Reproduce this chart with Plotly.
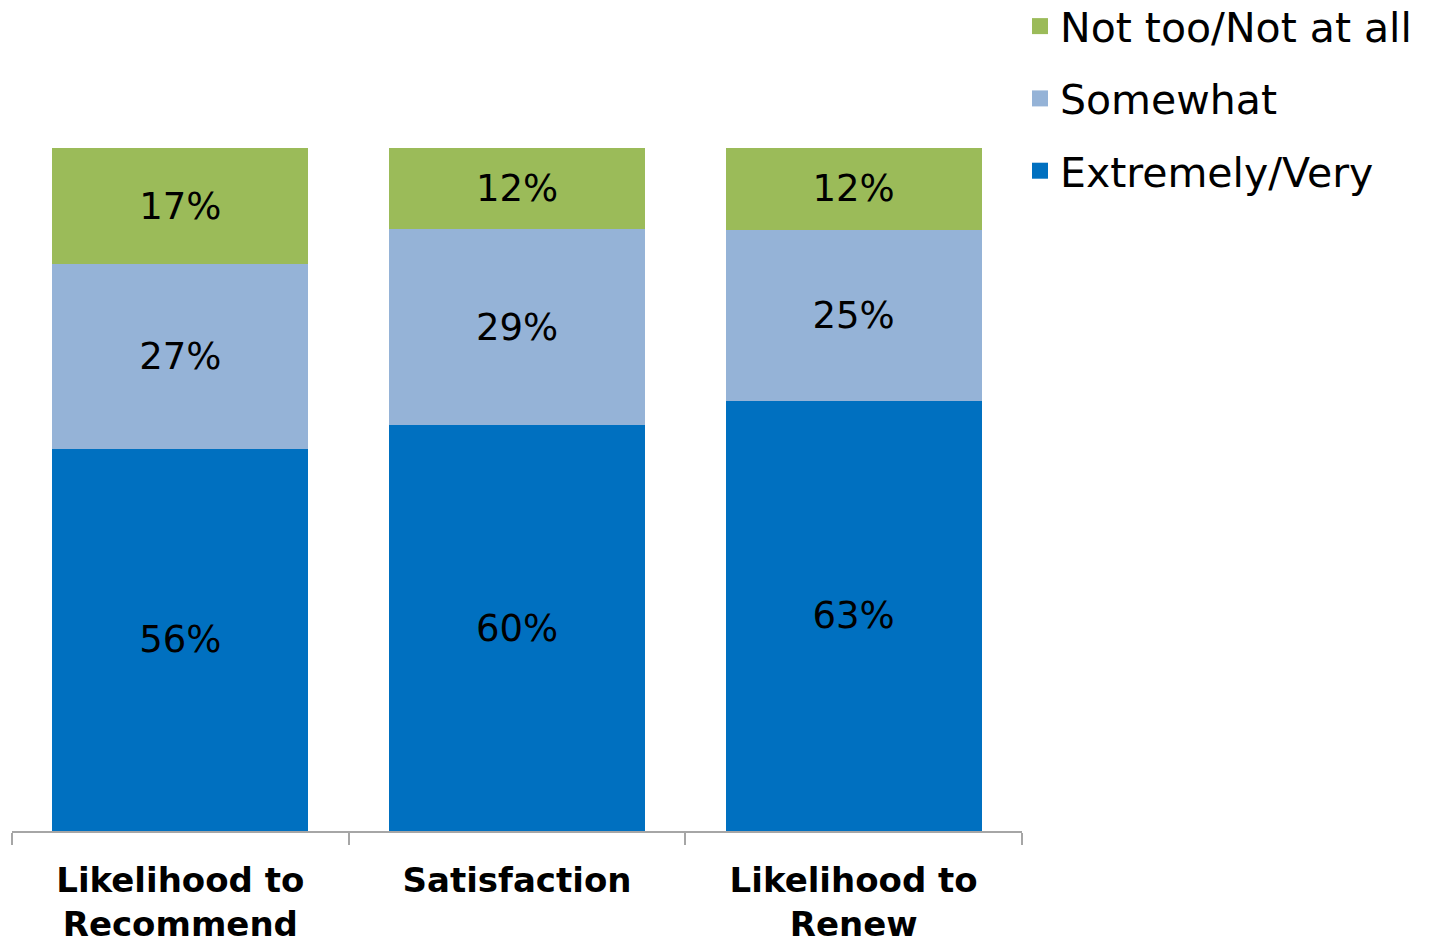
import plotly.graph_objects as go

categories = ["Likelihood to<br>Recommend", "Satisfaction", "Likelihood to<br>Renew"]
extremely_very = [56, 60, 63]
somewhat = [27, 29, 25]
not_too = [17, 12, 12]

# (name, values, colour, position in legend)
series = [
    ("Extremely/Very", extremely_very, "#0070C0", 3),
    ("Somewhat", somewhat, "#95B3D7", 2),
    ("Not too/Not at all", not_too, "#9BBB59", 1),
]

FONT = "DejaVu Sans"

fig = go.Figure()
for name, vals, color, rank in series:
    fig.add_trace(go.Bar(
        x=categories,
        y=vals,
        name=name,
        legendgroup=name,
        showlegend=False,
        marker=dict(color=color, line=dict(width=0)),
        text=[f"{v}%" for v in vals],
        textposition="inside",
        insidetextanchor="middle",
        textangle=0,
        textfont=dict(family=FONT, size=37, color="black"),
        constraintext="none",
    ))
    # legend key: a larger square swatch for each series
    fig.add_trace(go.Scatter(
        x=[None],
        y=[None],
        mode="markers",
        name=name,
        legendgroup=name,
        legendrank=rank,
        marker=dict(symbol="square", size=16, color=color),
        hoverinfo="skip",
    ))

fig.update_layout(
    barmode="stack",
    barnorm="percent",
    bargap=0.24,
    width=1439,
    height=943,
    margin=dict(l=12, r=417, t=148, b=112, autoexpand=False),
    plot_bgcolor="white",
    paper_bgcolor="white",
    font=dict(family=FONT, color="black"),
    uniformtext=dict(minsize=37, mode="show"),
    legend=dict(
        x=0.998,
        xanchor="left",
        y=1.227,
        yanchor="top",
        traceorder="grouped",
        tracegroupgap=16,
        font=dict(family=FONT, size=41, color="black"),
        itemsizing="trace",
        bgcolor="rgba(0,0,0,0)",
    ),
    xaxis=dict(
        showline=True,
        linecolor="#A6A6A6",
        linewidth=2,
        ticks="outside",
        tickson="boundaries",
        ticklen=12,
        tickcolor="#A6A6A6",
        tickwidth=2,
        ticklabelstandoff=18,
        tickfont=dict(family=FONT, size=34, color="black", weight="bold"),
        showgrid=False,
    ),
    yaxis=dict(
        range=[0, 100],
        visible=False,
        showgrid=False,
    ),
)

fig.write_html("out.html")
